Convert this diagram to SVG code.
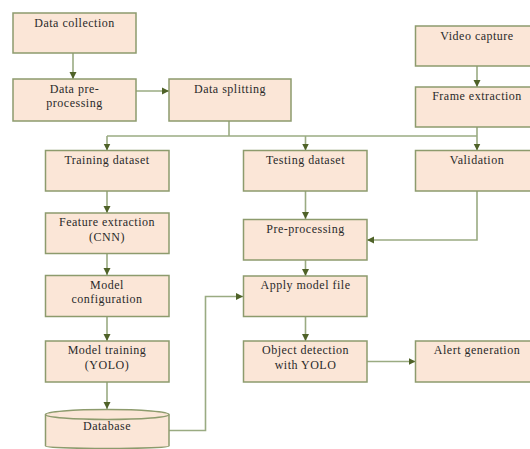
<svg xmlns="http://www.w3.org/2000/svg" width="530" height="449" viewBox="0 0 530 449">
<defs>
<style>
.b{fill:#fbe6d7;stroke:#8d9b6d;stroke-width:1.5}
.t{font-family:"Liberation Serif","Times New Roman",serif;font-size:12px;letter-spacing:0.5px;fill:#2a2a2a;text-anchor:middle}
.c{fill:none;stroke:#9aab82;stroke-width:1.6}
</style>
<marker id="a" markerWidth="8" markerHeight="8" refX="7" refY="4" orient="auto" markerUnits="userSpaceOnUse">
<path d="M0,0.5 L7,4 L0,7.5 Z" fill="#4f6228"/>
</marker>
</defs>
<rect width="530" height="449" fill="#fff"/>
<g id="connectors">
<path class="c" d="M73,53 V79" marker-end="url(#a)"/>
<path class="c" d="M136,91 H169" marker-end="url(#a)"/>
<path class="c" d="M229,121 V136"/>
<path class="c" d="M107,136 H477"/>
<path class="c" d="M107,136 V150.5" marker-end="url(#a)"/>
<path class="c" d="M305.5,136 V150.5" marker-end="url(#a)"/>
<path class="c" d="M477,127 V150.5" marker-end="url(#a)"/>
<path class="c" d="M477,66 V87" marker-end="url(#a)"/>
<path class="c" d="M107,191 V213" marker-end="url(#a)"/>
<path class="c" d="M107,253 V275" marker-end="url(#a)"/>
<path class="c" d="M107,317 V341" marker-end="url(#a)"/>
<path class="c" d="M107,382 V409" marker-end="url(#a)"/>
<path class="c" d="M305.5,191 V219" marker-end="url(#a)"/>
<path class="c" d="M477,191 V240 H367" marker-end="url(#a)"/>
<path class="c" d="M305.5,260 V276" marker-end="url(#a)"/>
<path class="c" d="M305.5,317 V341" marker-end="url(#a)"/>
<path class="c" d="M367,361.5 H415.5" marker-end="url(#a)"/>
<path class="c" d="M169,430.5 H205.5 V296.5 H243" marker-end="url(#a)"/>
</g>
<g id="data-collection"><rect class="b" x="13" y="13" width="123" height="40"/><text class="t" x="74.5" y="26.5">Data collection</text></g>
<g id="data-preprocessing"><rect class="b" x="13" y="79" width="123" height="42"/><text class="t" x="74.5" y="92.5">Data pre-</text><text class="t" x="74.5" y="106.5">processing</text></g>
<g id="data-splitting"><rect class="b" x="169" y="79" width="122" height="42"/><text class="t" x="230" y="93">Data splitting</text></g>
<g id="video-capture"><rect class="b" x="415.5" y="26" width="124" height="40"/><text class="t" x="477" y="39.5">Video capture</text></g>
<g id="frame-extraction"><rect class="b" x="415.5" y="87" width="124" height="40"/><text class="t" x="477" y="100">Frame extraction</text></g>
<g id="training-dataset"><rect class="b" x="45.5" y="150.5" width="123.5" height="40.5"/><text class="t" x="107" y="164">Training dataset</text></g>
<g id="testing-dataset"><rect class="b" x="243.5" y="150.5" width="123.5" height="40.5"/><text class="t" x="305.5" y="164">Testing dataset</text></g>
<g id="validation"><rect class="b" x="415.5" y="150.5" width="124" height="40.5"/><text class="t" x="477" y="164">Validation</text></g>
<g id="feature-extraction"><rect class="b" x="45.5" y="213" width="123.5" height="40.5"/><text class="t" x="107" y="225.5">Feature extraction</text><text class="t" x="107" y="240.5">(CNN)</text></g>
<g id="pre-processing"><rect class="b" x="243.5" y="219.5" width="123.5" height="40.5"/><text class="t" x="305.5" y="232.5">Pre-processing</text></g>
<g id="model-configuration"><rect class="b" x="45.5" y="275.5" width="123.5" height="41"/><text class="t" x="107" y="288.5">Model</text><text class="t" x="107" y="302.5">configuration</text></g>
<g id="apply-model-file"><rect class="b" x="243.5" y="276" width="123.5" height="40.5"/><text class="t" x="305.5" y="289">Apply model file</text></g>
<g id="model-training"><rect class="b" x="45.5" y="341" width="123.5" height="41"/><text class="t" x="107" y="354">Model training</text><text class="t" x="107" y="368.5">(YOLO)</text></g>
<g id="object-detection"><rect class="b" x="243.5" y="341" width="123.5" height="41"/><text class="t" x="305.5" y="354">Object detection</text><text class="t" x="305.5" y="368.5">with YOLO</text></g>
<g id="alert-generation"><rect class="b" x="415.5" y="341" width="124" height="41"/><text class="t" x="477" y="354">Alert generation</text></g>
<g id="database">
<path class="b" d="M45.5,414.5 V446 A61.75,2.5 0 0 0 169,446 V414.5"/>
<ellipse class="b" cx="107.25" cy="414.5" rx="61.75" ry="5"/>
<text class="t" x="107" y="430">Database</text>
</g>
</svg>
